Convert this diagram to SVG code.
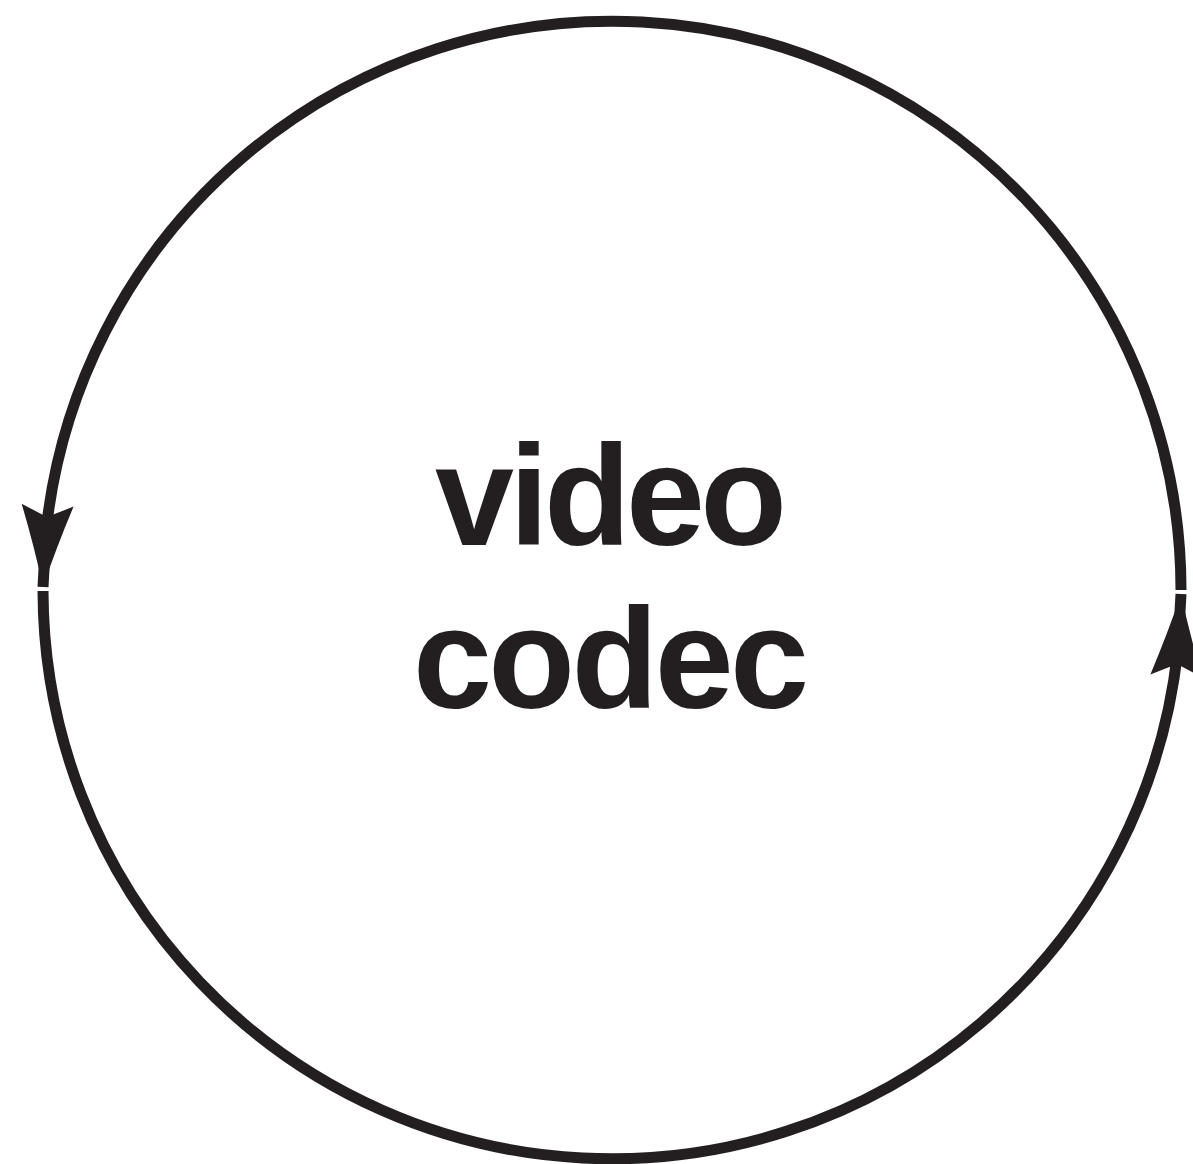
<svg xmlns="http://www.w3.org/2000/svg" width="1193" height="1164" viewBox="0 0 1193 1164">
  <style>
    .arc { fill: none; stroke: #231f20; stroke-width: 11; stroke-linecap: butt; }
    .label { font-family: "Liberation Sans", Arial, sans-serif; font-weight: bold; font-size: 142px; fill: #231f20; }
  </style>
  <defs>
    <marker id="arrow" markerUnits="userSpaceOnUse" orient="auto" markerWidth="100" markerHeight="60" refX="0" refY="0" viewBox="-90 -30 100 60" overflow="visible">
      <path d="M0,0 Q-40,-11 -82,-26 L-70,0 L-82,26 Q-40,11 0,0 Z" fill="#231f20"/>
    </marker>
  </defs>
  <rect width="1193" height="1164" fill="#ffffff"/>
  <g id="connectors">
    <path class="arc" d="M 1181 590 A 569 569 0 0 0 46.2 530 L 43 587" marker-end="url(#arrow)"/>
    <path class="arc" d="M 43 591 A 569 569 0 0 0 1177.8 650 L 1181 594" marker-end="url(#arrow)"/>
  </g>
  <g id="node-video-codec">
    <text class="label" x="611" y="545" text-anchor="middle" textLength="352" lengthAdjust="spacing">video</text>
    <text class="label" x="611" y="708" text-anchor="middle" textLength="396" lengthAdjust="spacing">codec</text>
  </g>
</svg>
